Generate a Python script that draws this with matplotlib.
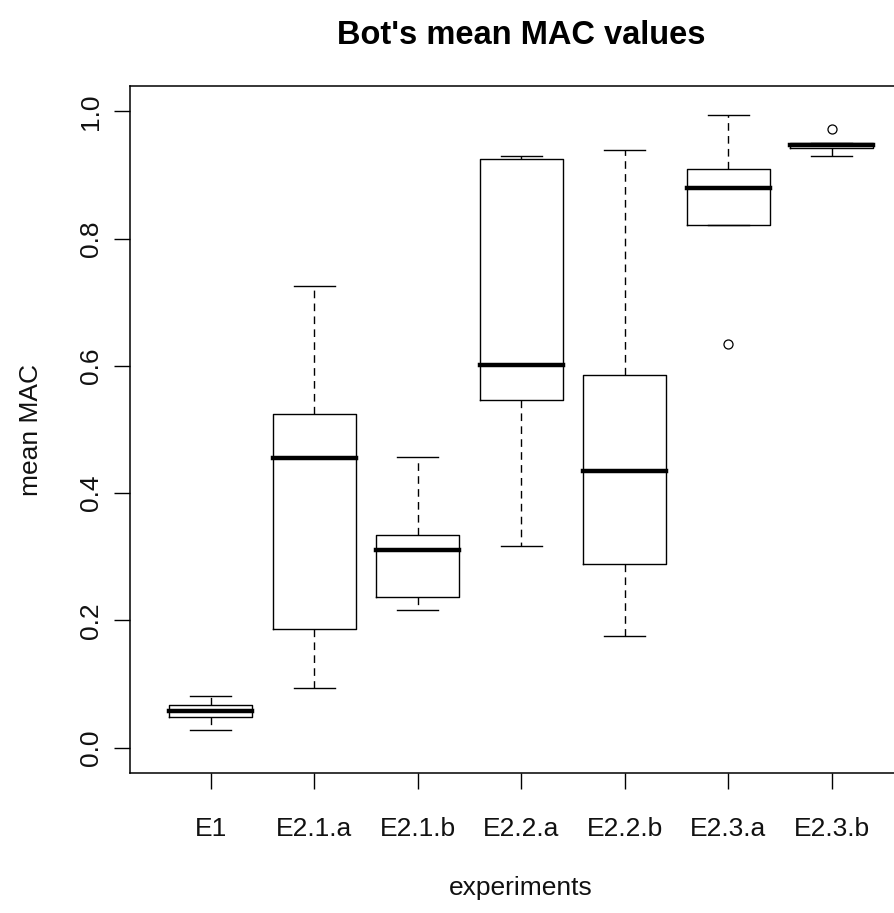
import matplotlib
matplotlib.use("Agg")
import matplotlib.pyplot as plt

plt.rcParams["font.family"] = ["Liberation Sans", "DejaVu Sans"]

# Summary statistics of the bot's mean MAC per experiment
experiments = ["E1", "E2.1.a", "E2.1.b", "E2.2.a", "E2.2.b", "E2.3.a", "E2.3.b"]
whisker_low = [0.028, 0.094, 0.216, 0.317, 0.176, 0.821, 0.930]
q1 = [0.048, 0.187, 0.236, 0.547, 0.288, 0.821, 0.942]
median = [0.058, 0.455, 0.311, 0.602, 0.435, 0.879, 0.947]
q3 = [0.0665, 0.525, 0.334, 0.925, 0.585, 0.910, 0.951]
whisker_high = [0.081, 0.726, 0.457, 0.930, 0.939, 0.994, 0.951]
outliers = [[], [], [], [], [], [0.635], [0.972]]

W, H = 894, 913
fig = plt.figure(figsize=(W / 100, H / 100), dpi=100)
fig.patch.set_facecolor("white")

left, right, top, bottom = 130, 912.5, 86, 773
ax = fig.add_axes([left / W, 1 - bottom / H, (right - left) / W, (bottom - top) / H])

stats = []
for name, lo, a, m, b, hi, fl in zip(experiments, whisker_low, q1, median, q3,
                                     whisker_high, outliers):
    stats.append(dict(label=name, whislo=lo, q1=a, med=m, q3=b, whishi=hi, fliers=fl))

lw = 1.0
ax.bxp(
    stats,
    positions=range(1, len(experiments) + 1),
    widths=0.8,
    capwidths=0.4,
    showfliers=True,
    boxprops=dict(color="black", linewidth=lw),
    medianprops=dict(color="black", linewidth=3.2, solid_capstyle="projecting"),
    whiskerprops=dict(color="black", linewidth=lw, linestyle=(0, (5.5, 3.8))),
    capprops=dict(color="black", linewidth=lw),
    flierprops=dict(marker="o", markersize=6.5, markerfacecolor="none",
                    markeredgecolor="black", markeredgewidth=0.9),
)

n = len(experiments)
span = n
ax.set_xlim(0.5 - 0.04 * span, n + 0.5 + 0.04 * span)
ax.set_ylim(-0.04, 1.04)

ax.set_yticks([0.0, 0.2, 0.4, 0.6, 0.8, 1.0])
ax.set_yticklabels(["0.0", "0.2", "0.4", "0.6", "0.8", "1.0"], rotation=90, va="center")
ax.set_xticks(range(1, n + 1))
ax.set_xticklabels(experiments)

ax.tick_params(axis="both", direction="out", length=11.5, width=1.0,
               labelsize=19, color="black", labelcolor="#111111")
ax.tick_params(axis="y", pad=8)
ax.tick_params(axis="x", pad=20)

for sp in ax.spines.values():
    sp.set_linewidth(1.1)
    sp.set_color("black")

fig.text(521 / W, 1 - 35 / H, "Bot's mean MAC values", ha="center", va="center",
         fontsize=23.5, fontweight="bold")
fig.text(521 / W, 1 - 888 / H, "experiments", ha="center", va="center",
         fontsize=19, color="#111111")
fig.text(31 / W, 1 - 430 / H, "mean MAC", ha="center", va="center",
         rotation=90, fontsize=19, color="#111111")

fig.savefig("out.png", dpi=100, facecolor="white")
